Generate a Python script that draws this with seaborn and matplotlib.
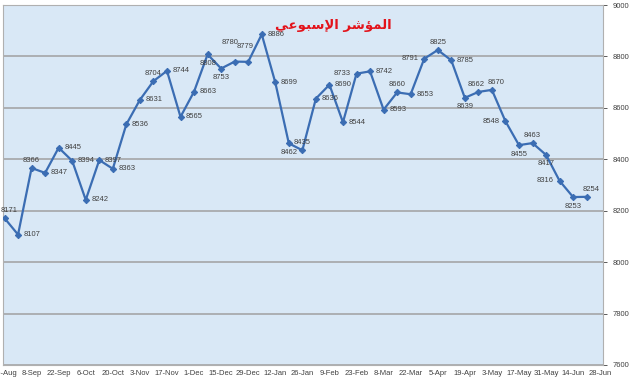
import numpy as np
import pandas as pd
import matplotlib
matplotlib.use('Agg')
import matplotlib.pyplot as plt
import seaborn as sns

# weekly index closing values, starting 25-Aug
values = [8171, 8107, 8366, 8347, 8445, 8394, 8242, 8397, 8363, 8536,
          8631, 8704, 8744, 8565, 8663, 8808, 8753, 8780, 8779, 8886,
          8699, 8462, 8435, 8636, 8690, 8544, 8733, 8742, 8593, 8660,
          8653, 8791, 8825, 8785, 8639, 8662, 8670, 8548, 8455, 8463,
          8417, 8316, 8253, 8254]

# where each data label sits relative to its point
label_pos = ['a+', 'r', 'a', 'r', 'r', 'r', 'r', 'r', 'r', 'r',
             'r', 'a', 'r', 'r', 'r', 'b', 'b', 'A', 'B', 'r',
             'r', 'b', 'a', 'r', 'r', 'r', 'l', 'r', 'r', 'a',
             'r', 'l', 'a', 'r', 'b', 'a-', 'a+', 'l', 'b', 'a',
             'b', 'l', 'b', 'a+']

tick_labels = ['25-Aug', '8-Sep', '22-Sep', '6-Oct', '20-Oct', '3-Nov', '17-Nov',
               '1-Dec', '15-Dec', '29-Dec', '12-Jan', '26-Jan', '9-Feb', '23-Feb',
               '8-Mar', '22-Mar', '5-Apr', '19-Apr', '3-May', '17-May', '31-May',
               '14-Jun', '28-Jun']

y_ticks = [7600, 7800, 8000, 8200, 8400, 8600, 8800, 9000]

# "المؤشر الإسبوعي" in Arabic presentation forms, visual order
title = '\ufef2\ufecb\ufeee\ufe92\ufeb3\ufef9\ufe8d \ufeae\ufeb7\ufe86\ufee4\ufedf\ufe8d'

BG = '#d9e8f6'
LINE = '#3b6db3'
GRID = '#a0a0a0'
TEXT = '#404040'
NARROW = ['Liberation Sans Narrow', 'Liberation Sans', 'DejaVu Sans']

df = pd.DataFrame({'week': np.arange(len(values)), 'value': values})

sns.set_style('white')
plt.rcParams['font.family'] = NARROW

fig = plt.figure(figsize=(6.3, 3.87), dpi=100, facecolor='white')
ax = fig.add_axes([0.005, 0.057, 0.952, 0.930])
ax.set_facecolor(BG)

sns.lineplot(data=df, x='week', y='value', ax=ax, color=LINE, linewidth=1.6,
             marker='D', markersize=3.2, markeredgecolor=LINE, zorder=3)

offsets = {'a': (0, 3, 'center', 'bottom'),
           'a+': (3, 3, 'center', 'bottom'),
           'a-': (-1.5, 3, 'center', 'bottom'),
           'A': (-3, 11, 'center', 'bottom'),
           'B': (-2, 8.5, 'center', 'bottom'),
           'b': (0, -4, 'center', 'top'),
           'r': (4, 0, 'left', 'center'),
           'l': (-4, 0, 'right', 'center')}
for x, v, p in zip(df['week'], df['value'], label_pos):
    dx, dy, ha, va = offsets[p]
    ax.annotate(str(v), (x, v), xytext=(dx, dy), textcoords='offset points',
                ha=ha, va=va, fontsize=5.5, color=TEXT, zorder=4)

ax.set_xlim(-0.1, 44.2)
ax.set_ylim(7600, 9000)
ax.set_xticks(np.arange(0, 2 * len(tick_labels), 2))
ax.set_xticklabels(tick_labels)
ax.set_yticks(y_ticks)
ax.yaxis.tick_right()
ax.tick_params(axis='both', labelsize=5.5, colors=TEXT, length=3, width=0.6,
               direction='out', pad=4)
ax.tick_params(axis='x', direction='in', length=2)
ax.grid(axis='y', color=GRID, linewidth=1.1)
ax.grid(axis='x', visible=False)
ax.set_xlabel('')
ax.set_ylabel('')
for s in ax.spines.values():
    s.set_edgecolor('#b0b0b0')
    s.set_linewidth(0.8)

fig.text(0.529, 0.935, title, color='#e3131b', fontsize=9.5, fontweight='bold',
         ha='center', va='center', family=['DejaVu Sans'])

fig.savefig('out.png', dpi=100, facecolor='white')
